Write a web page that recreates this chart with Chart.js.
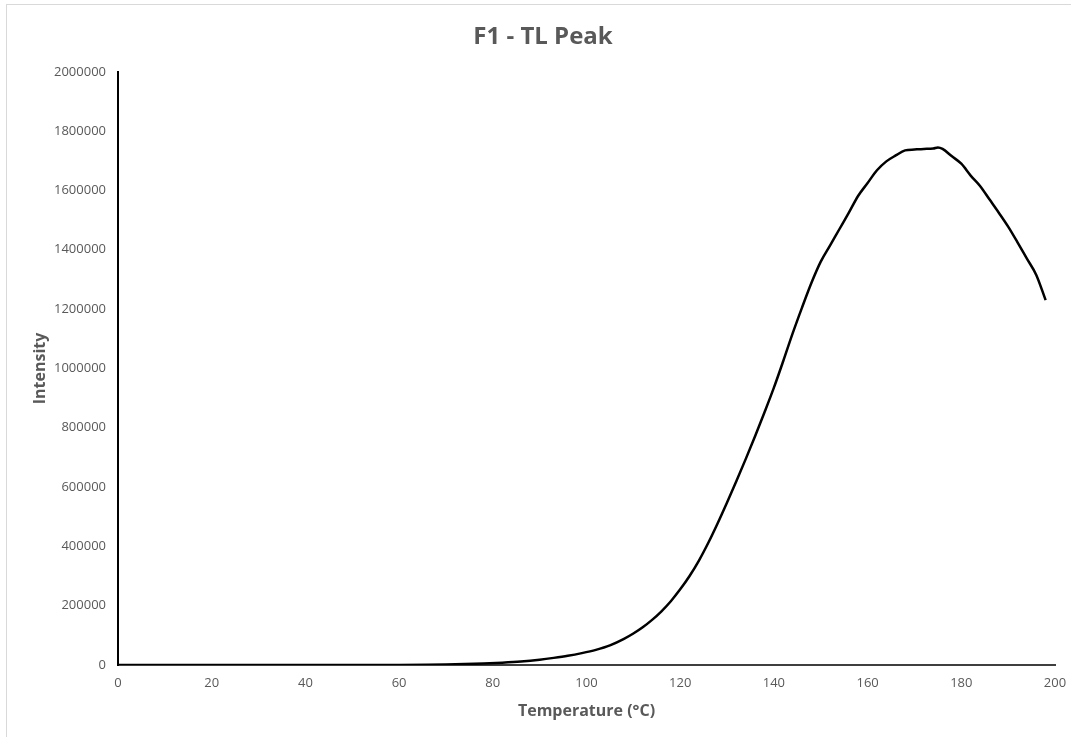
<!DOCTYPE html>
<html>
<head>
<meta charset="utf-8">
<script src="https://cdn.jsdelivr.net/npm/chart.js@4.4.1/dist/chart.umd.min.js"></script>
<style>
  html, body { margin: 0; padding: 0; background: #fff; overflow: hidden; }
  #wrap { position: relative; width: 1071px; height: 737px; overflow: hidden; }
  #frame { position: absolute; left: 6px; top: 4px; width: 1200px; height: 900px; border: 1px solid #d9d9d9; box-sizing: border-box; }
  canvas { position: absolute; left: 0; top: 0; }
</style>
</head>
<body>
<div id="wrap">
  <div id="frame"></div>
  <canvas id="c" width="1071" height="737"></canvas>
</div>
<script>
const temperatures = [0, 10, 20, 30, 40, 50, 60, 66, 70, 74, 78, 82, 86, 90, 93, 96, 99, 102, 105, 108, 110, 112, 114, 116, 118, 120, 122, 124, 126, 128, 130, 132, 134, 136, 138, 140, 142, 144, 146, 148, 150, 152, 154, 156, 158, 160, 162, 164, 166, 168, 170, 172, 174, 175, 176, 178, 180, 182, 184, 186, 188, 190, 192, 194, 196, 198];
const intensities = [0, 0, 0, 0, 0, 0, 0, 500, 1500, 3000, 5000, 8000, 12000, 18000, 24000, 31000, 40000, 51000, 66000, 88000, 106000, 127000, 152000, 181000, 215000, 255000, 300000, 352000, 412000, 478000, 548000, 620000, 695000, 772000, 852000, 935000, 1025000, 1118000, 1205000, 1288000, 1360000, 1415000, 1470000, 1525000, 1582000, 1625000, 1668000, 1698000, 1718000, 1735000, 1738000, 1740000, 1741000, 1745000, 1740000, 1715000, 1690000, 1650000, 1615000, 1570000, 1525000, 1478000, 1425000, 1370000, 1315000, 1230000];
const xTicks = [0, 20, 40, 60, 80, 100, 120, 140, 160, 180, 200];
const yTicks = [0, 200000, 400000, 600000, 800000, 1000000, 1200000, 1400000, 1600000, 1800000, 2000000];

const points = temperatures.map((t, i) => ({ x: t, y: intensities[i] }));
const tickColor = '#595959';
const tickFont = { family: 'Open Sans', size: 13 };

new Chart(document.getElementById('c'), {
  type: 'line',
  data: {
    datasets: [{
      label: 'F1',
      data: points,
      borderColor: '#000000',
      borderWidth: 2.5,
      pointRadius: 0,
      fill: false,
      cubicInterpolationMode: 'monotone'
    }]
  },
  options: {
    responsive: false,
    animation: false,
    events: [],
    layout: { padding: { left: 31, right: 16, top: 0, bottom: 0 } },
    plugins: {
      legend: { display: false },
      tooltip: { enabled: false },
      title: {
        display: true,
        text: 'F1 - TL Peak',
        color: tickColor,
        font: { family: 'Open Sans', size: 24, weight: 'bold' },
        padding: { top: 23, bottom: 20 }
      }
    },
    scales: {
      x: {
        type: 'linear',
        min: xTicks[0],
        max: xTicks[xTicks.length - 1],
        afterBuildTicks: s => { s.ticks = xTicks.map(v => ({ value: v })); },
        afterFit: s => { s.height = 72; s.paddingLeft = 0; s.paddingRight = 0; },
        grid: { display: false, drawTicks: false },
        border: { display: true, color: '#3f3f3f', width: 2 },
        ticks: { color: tickColor, font: tickFont, padding: 10, maxRotation: 0, callback: v => String(v) },
        title: {
          display: true,
          text: 'Temperature (°C)',
          color: tickColor,
          font: { family: 'Open Sans', size: 16, weight: 'bold' },
          padding: { top: 0, bottom: 16 }
        }
      },
      y: {
        type: 'linear',
        min: yTicks[0],
        max: yTicks[yTicks.length - 1],
        afterBuildTicks: s => { s.ticks = yTicks.map(v => ({ value: v })); },
        afterFit: s => { s.width = 87; },
        grid: { display: false, drawTicks: false },
        border: { display: true, color: '#000000', width: 2 },
        ticks: { color: tickColor, font: tickFont, padding: 12, callback: v => String(v) },
        title: {
          display: true,
          text: 'Intensity',
          color: tickColor,
          font: { family: 'Open Sans', size: 16, weight: 'bold' },
          padding: { top: 0, bottom: 0 }
        }
      }
    }
  }
});
</script>
</body>
</html>
